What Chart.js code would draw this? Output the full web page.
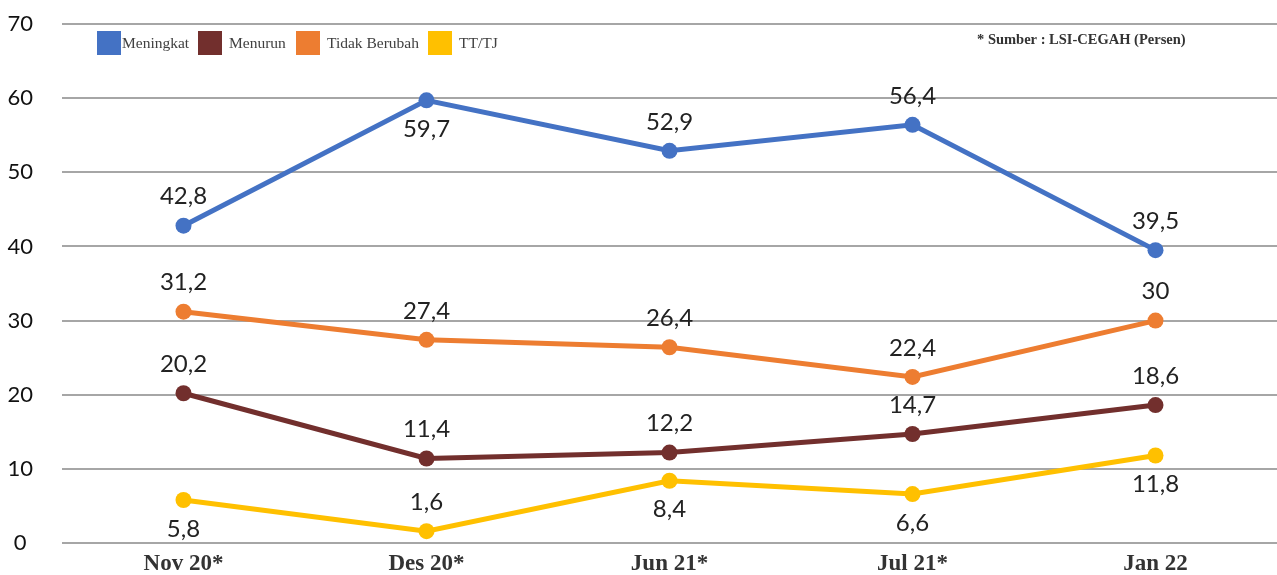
<!DOCTYPE html>
<html>
<head>
<meta charset="utf-8">
<script src="https://cdn.jsdelivr.net/npm/chart.js@4.4.1/dist/chart.umd.min.js"></script>
<style>
  html, body { margin: 0; padding: 0; background: #fff; overflow: hidden; }
  canvas { display: block; }
</style>
</head>
<body>
<canvas id="myChart" width="1277" height="575"></canvas>
<script>
// data
const categories = ['Nov 20*', 'Des 20*', 'Jun 21*', 'Jul 21*', 'Jan 22'];
const meningkat = [42.8, 59.7, 52.9, 56.4, 39.5];
const menurun = [20.2, 11.4, 12.2, 14.7, 18.6];
const tidakBerubah = [31.2, 27.4, 26.4, 22.4, 30];
const ttTj = [5.8, 1.6, 8.4, 6.6, 11.8];
const yTicks = [0, 10, 20, 30, 40, 50, 60, 70];
// where each value label sits: 1 = above the point, -1 = below
const labelSide = {
	'Meningkat': [1, -1, 1, 1, 1],
	'Menurun': [1, 1, 1, 1, 1],
	'Tidak Berubah': [1, 1, 1, 1, 1],
	'TT/TJ': [-1, 1, -1, -1, -1],
};
const sourceNote = '* Sumber : LSI-CEGAH (Persen)';

const serif = '"Liberation Serif", "DejaVu Serif", serif';
const sans = 'Lato, "Open Sans", sans-serif';

function series(label, values, color) {
	return {
		label: label,
		data: values,
		borderColor: color,
		backgroundColor: color,
		borderWidth: 5,
		pointRadius: 8,
		pointHoverRadius: 8,
		pointBorderWidth: 0,
		tension: 0,
	};
}

const data = {
	labels: categories,
	datasets: [
		series('Meningkat', meningkat, '#4472C4'),
		series('Menurun', menurun, '#722F2D'),
		series('Tidak Berubah', tidakBerubah, '#ED7D31'),
		series('TT/TJ', ttTj, '#FFC000'),
	],
};

/* labels, legend and note drawn on top */
const overlay = {
	id: 'overlay',
	afterDatasetsDraw(chart) {
		const ctx = chart.ctx;
		ctx.save();
		// value labels
		ctx.font = '24px ' + sans;
		ctx.fillStyle = '#222';
		ctx.textAlign = 'center';
		ctx.textBaseline = 'middle';
		chart.data.datasets.forEach((ds, i) => {
			const meta = chart.getDatasetMeta(i);
			meta.data.forEach((pt, j) => {
				const side = labelSide[ds.label][j];
				const txt = String(ds.data[j]).replace('.', ',');
				ctx.fillText(txt, pt.x, pt.y - side * 29);
			});
		});
		// legend
		const legendX = [97, 198, 296, 428];
		ctx.font = '15.5px ' + serif;
		ctx.textAlign = 'left';
		chart.data.datasets.forEach((ds, i) => {
			ctx.fillStyle = ds.borderColor;
			ctx.fillRect(legendX[i], 31, 24, 24);
			ctx.fillStyle = '#404040';
			ctx.fillText(ds.label, legendX[i] + 25 + (i === 0 ? 0 : 6), 44);
		});
		// source note
		ctx.font = 'bold 14.5px ' + serif;
		ctx.fillStyle = '#333';
		ctx.fillText(sourceNote, 977, 40);
		ctx.restore();
	},
};

const config = {
	type: 'line',
	data: data,
	options: {
		responsive: false,
		animation: false,
		layout: { autoPadding: false, padding: { top: 24, right: 0, bottom: 0, left: 0 } },
		plugins: {
			legend: false,
			tooltip: { enabled: false },
		},
		scales: {
			x: {
				offset: true,
				grid: { display: false },
				border: { display: false },
				ticks: {
					padding: -1,
					color: '#333',
					font: { family: serif, size: 23, weight: 'bold' },
				},
				afterFit(scale) {
					scale.height = 32;
					scale.paddingLeft = 0;
					scale.paddingRight = 0;
				},
			},
			y: {
				min: 0,
				max: 70,
				afterBuildTicks(scale) {
					scale.ticks = yTicks.map(v => ({ value: v }));
				},
				grid: { color: '#A6A6A6', lineWidth: 2, drawTicks: false },
				border: { display: false },
				ticks: {
					padding: 29,
					crossAlign: 'center',
					color: '#111',
					font: { family: sans, size: 22 },
				},
				afterFit(scale) {
					scale.width = 62;
					// tick padding should not push the plot top/bottom
					scale.paddingTop = 0;
					scale.paddingBottom = 0;
				},
			},
		},
	},
	plugins: [overlay],
};

const context = document.getElementById('myChart').getContext('2d');
const chart = new Chart(context, config);
</script>
</body>
</html>
